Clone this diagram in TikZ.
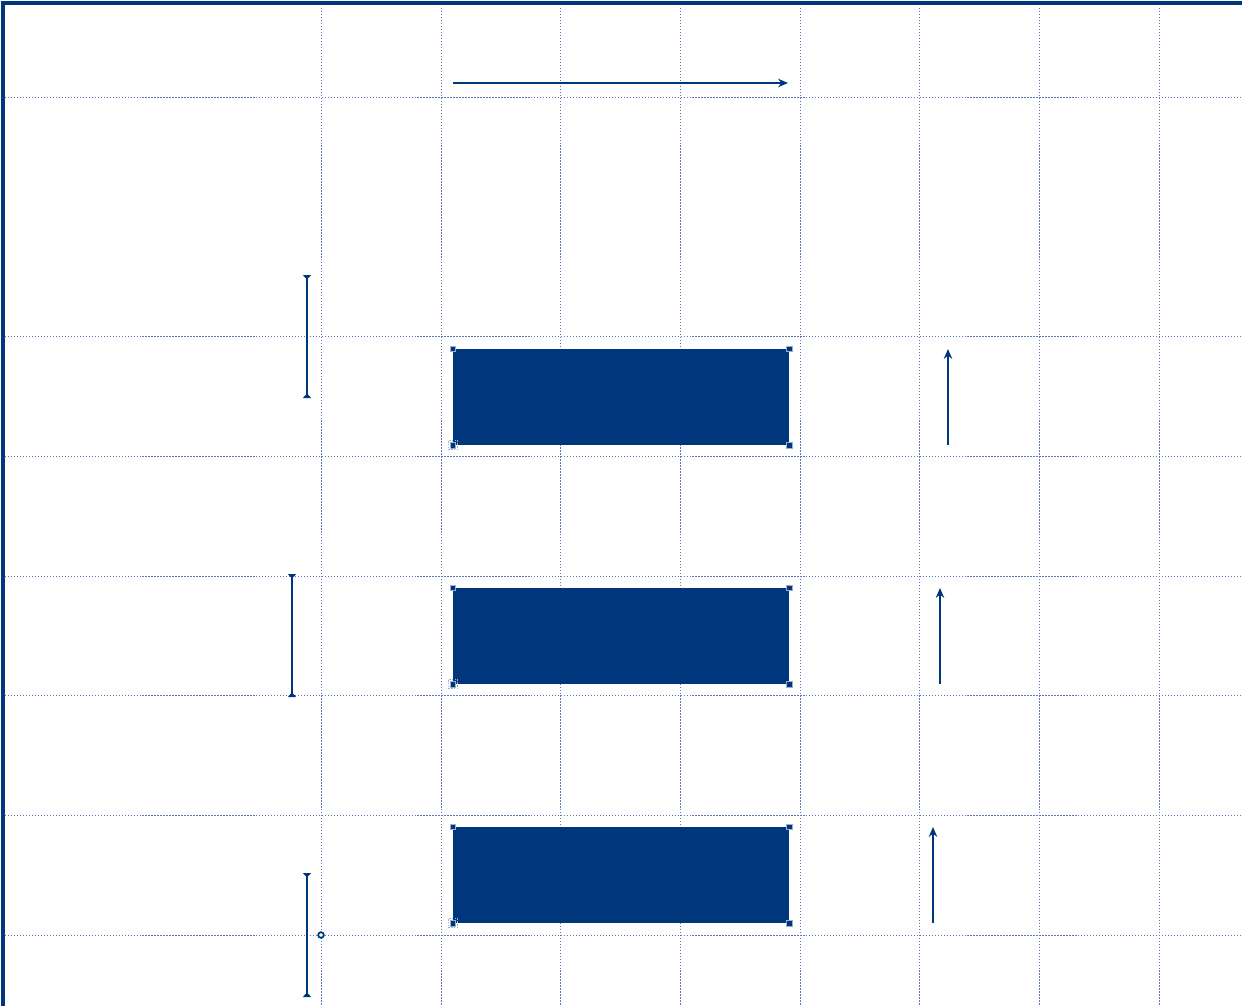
\documentclass[tikz,border=0pt]{standalone}
\usetikzlibrary{arrows.meta}
\definecolor{navy}{RGB}{0,54,124}
\definecolor{gridblue}{RGB}{95,120,190}
\tikzset{
  gridline/.style={gridblue, line width=0.28pt, dash pattern=on 0.4pt off 0.45pt},
  bar/.style={fill=navy, draw=navy, line width=0.3pt},
  handle/.style={fill=navy, draw=white!60!navy, line width=0.1pt, minimum size=1.5pt, inner sep=0pt},
  flow/.style={navy, line width=0.45pt, -{Stealth[length=2.8pt,width=2.4pt]}},
  dimline/.style={navy, line width=0.45pt, {Triangle[reversed,length=1.3pt,width=2.3pt]}-{Triangle[reversed,length=1.3pt,width=2.3pt]}},
}
\begin{document}
\begin{tikzpicture}[x={(0.01cm,0)}, y={(0,-0.01cm)}]
\useasboundingbox (0,0) rectangle (1242,1006);
% grid
\foreach \yy in {97,336,456,576,695,815,935} \draw[gridline] (5,\yy) -- (1242,\yy);
\foreach \xx in {321,441,560,680,800,919,1039,1159} \draw[gridline] (\xx,8) -- (\xx,1006);
% border
\draw[navy, line width=1.2pt] (3,1006) -- (3,3) -- (1242,3);
% top arrow
\coordinate (ta) at (453,83);
\coordinate (tb) at (788,83);
\draw[flow] (ta) -- (tb);
% bars
\foreach \n/\yt in {1/349,2/588,3/827}{
  \node[bar, minimum width=335*0.01cm, minimum height=95*0.01cm, anchor=north west, inner sep=0pt] (bar\n) at (453,\yt) {};
  \node[draw=gridblue!60, line width=0.25pt, dash pattern=on 0.4pt off 0.4pt, minimum size=2.6pt, inner sep=0pt] at (bar\n.south west) {};
  \foreach \c in {north west, north east, south east, south west}
    \node[handle] at (bar\n.\c) {};
}
% vertical arrows
\coordinate (a1s) at (948,445); \coordinate (a1e) at (948,349);
\coordinate (a2s) at (940,684); \coordinate (a2e) at (940,588);
\coordinate (a3s) at (933,923); \coordinate (a3e) at (933,827);
\draw[flow] (a1s) -- (a1e);
\draw[flow] (a2s) -- (a2e);
\draw[flow] (a3s) -- (a3e);
% dimension lines
\coordinate (d1t) at (307,275); \coordinate (d1b) at (307,398);
\coordinate (d2t) at (292,574); \coordinate (d2b) at (292,697);
\coordinate (d3t) at (307,873); \coordinate (d3b) at (307,997);
\draw[dimline] (d1t) -- (d1b);
\draw[dimline] (d2t) -- (d2b);
\draw[dimline] (d3t) -- (d3b);
% small marker
\node[draw=navy, fill=white, line width=0.5pt, circle, minimum size=1.6pt, inner sep=0pt] (mk) at (321,935) {};
\end{tikzpicture}
\end{document}
